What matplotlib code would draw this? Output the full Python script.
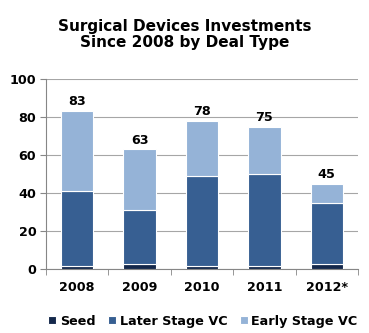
import matplotlib
matplotlib.use("Agg")
import matplotlib.pyplot as plt
import numpy as np

years = ["2008", "2009", "2010", "2011", "2012*"]
seed = [2, 3, 2, 2, 3]
later = [39, 28, 47, 48, 32]
early = [42, 32, 29, 25, 10]
totals = [83, 63, 78, 75, 45]

c_seed = "#14284B"
c_later = "#375F92"
c_early = "#95B3D7"

plt.rcParams['font.family'] = ['DejaVu Sans']
fig = plt.figure(figsize=(3.69, 3.33), dpi=100)
ax = fig.add_axes([0.1247, 0.191, 0.8453, 0.572])

x = np.arange(len(years))
w = 0.52
seed_a = np.array(seed); later_a = np.array(later); early_a = np.array(early)
ax.bar(x, seed_a, w, color=c_seed, edgecolor="white", linewidth=0.8, label="Seed", zorder=3)
ax.bar(x, later_a, w, bottom=seed_a, color=c_later, edgecolor="white", linewidth=0.8, label="Later Stage VC", zorder=3)
ax.bar(x, early_a, w, bottom=seed_a + later_a, color=c_early, edgecolor="white", linewidth=0.8, label="Early Stage VC", zorder=3)

for xi, t in zip(x, totals):
    ax.text(xi, t + 1.5, str(t), ha="center", va="bottom", fontsize=9.2, fontweight="bold", color="black")

ax.set_xlim(-0.5, len(years) - 0.5)
ax.set_ylim(0, 100)
ax.set_yticks(range(0, 101, 20))
ax.set_yticklabels([str(v) for v in range(0, 101, 20)], fontsize=9.2, fontweight="bold")
ax.yaxis.grid(True, color="#A6A6A6", linewidth=0.8, zorder=0)
ax.set_axisbelow(True)
ax.set_xticks(x)
ax.set_xticklabels(years, fontsize=9.2, fontweight="bold")
ax.set_xticks(np.arange(-0.5, len(years), 1.0), minor=True)
ax.tick_params(axis="x", which="major", length=0, pad=8)
ax.tick_params(axis="x", which="minor", length=4, color="#868686")
ax.tick_params(axis="y", length=4, color="#868686", pad=3)
for s in ["top", "right"]:
    ax.spines[s].set_visible(False)
ax.spines["left"].set_color("#868686")
ax.spines["bottom"].set_color("#868686")

fig.text(0.5, 0.897, "Surgical Devices Investments\nSince 2008 by Deal Type", ha="center", va="center",
         fontsize=11, fontweight="bold", linespacing=1.05)

handles, labels = ax.get_legend_handles_labels()
leg = fig.legend(handles, labels, loc="center", bbox_to_anchor=(0.55, 0.035), ncol=3, frameon=False,
                 prop={"size": 9.2, "weight": "bold"}, handlelength=0.6, handleheight=0.6,
                 handletextpad=0.3, columnspacing=1.0)

fig.savefig("out.png", dpi=100)
